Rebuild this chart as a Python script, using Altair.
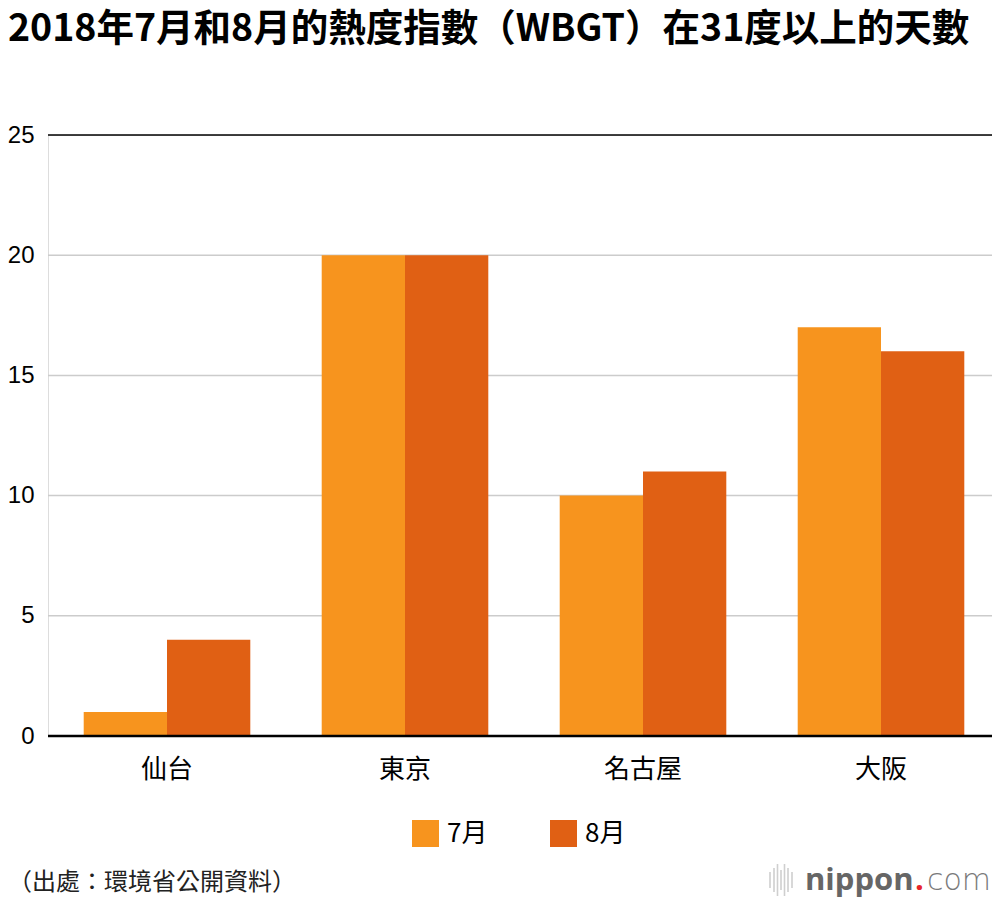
import altair as alt
import pandas as pd

cities = ["仙台", "東京", "名古屋", "大阪"]
months = ["7月", "8月"]
july = [1, 20, 10, 17]
august = [4, 20, 11, 16]
colors = ["#F7941E", "#E06014"]
y_ticks = [0, 5, 10, 15, 20, 25]
grid_values = [5, 10, 15, 20]
title_text = "2018年7月和8月的熱度指數（WBGT）在31度以上的天數"
source_text = "（出處：環境省公開資料）"

rows = []
for c, a, b in zip(cities, july, august):
    rows.append({"city": c, "month": months[0], "days": a})
    rows.append({"city": c, "month": months[1], "days": b})
df = pd.DataFrame(rows)

W, H = 944, 601
FULL_W = 952
CJK = "Noto Sans CJK TC"

x_enc = alt.X("city:N", sort=cities, title=None,
              scale=alt.Scale(range=[0, FULL_W], paddingInner=0.3, paddingOuter=0.15),
              axis=alt.Axis(labelAngle=0, labelFont=CJK, labelFontSize=26, labelColor="#000",
                            labelPadding=20, domain=False, ticks=False, labelBaseline="top"))
y_scale = alt.Scale(domain=[0, 25], nice=False)
y_axis = alt.Axis(values=y_ticks, labelFont="Liberation Sans", labelFontSize=24,
                  labelColor="#000", labelPadding=14, domain=False, ticks=False, grid=False)

bars = alt.Chart(df).mark_bar().encode(
    x=x_enc,
    xOffset=alt.XOffset("month:N", sort=months),
    y=alt.Y("days:Q", scale=y_scale, title=None, axis=y_axis),
    color=alt.Color("month:N", sort=months,
                    scale=alt.Scale(domain=months, range=colors),
                    legend=alt.Legend(title=None, orient="none", direction="horizontal",
                                      legendX=364, legendY=685, padding=0,
                                      symbolType="square", symbolSize=729, symbolStrokeWidth=0,
                                      symbolOpacity=1,
                                      labelFont=CJK, labelFontSize=26, labelColor="#000",
                                      labelOffset=8, columnPadding=62)),
)

grid = alt.Chart(pd.DataFrame({"days": grid_values})).mark_rule(
    color="#cccccc", strokeWidth=1.5).encode(
    y=alt.Y("days:Q", scale=y_scale, title=None, axis=y_axis),
    x=alt.value(0), x2=alt.value(FULL_W))
top_rule = alt.Chart(pd.DataFrame({"days": [25]})).mark_rule(color="#000", strokeWidth=1.5).encode(
    y=alt.Y("days:Q", scale=y_scale, title=None, axis=y_axis),
    x=alt.value(0), x2=alt.value(FULL_W))
zero_rule = alt.Chart(pd.DataFrame({"days": [0]})).mark_rule(color="#000", strokeWidth=2.5).encode(
    y=alt.Y("days:Q", scale=y_scale, title=None, axis=y_axis),
    x=alt.value(0), x2=alt.value(FULL_W))

title = alt.Chart(pd.DataFrame({"t": [title_text]})).mark_text(
    font=CJK, fontSize=37.5, fontWeight="bold", align="left", baseline="alphabetic", color="#000"
).encode(text="t:N", x=alt.value(-40), y=alt.value(-94))

src = alt.Chart(pd.DataFrame({"t": [source_text]})).mark_text(
    font=CJK, fontSize=24, align="left", baseline="alphabetic", color="#222"
).encode(text="t:N", x=alt.value(-40), y=alt.value(755))

LOGO_Y = 755
logo_n = alt.Chart(pd.DataFrame({"t": ["nippon"]})).mark_text(
    font="Open Sans", fontWeight="bold", fontSize=31, align="left",
    baseline="alphabetic", color="#666666"
).encode(text="t:N", x=alt.value(757), y=alt.value(LOGO_Y))
logo_dot = alt.Chart(pd.DataFrame({"t": ["."]})).mark_text(
    font="Open Sans", fontWeight="bold", fontSize=31, align="left", baseline="alphabetic", color="#e8262a"
).encode(text="t:N", x=alt.value(867), y=alt.value(LOGO_Y))
logo_com = alt.Chart(pd.DataFrame({"t": ["com"]})).mark_text(
    font="DejaVu Sans", fontWeight=200, fontSize=30, align="left", baseline="alphabetic", color="#7a7a7a"
).encode(text="t:N", x=alt.value(879), y=alt.value(LOGO_Y))

icon_layers = []
icon_bars = [(722, 8), (726, 12), (729.5, 16), (733, 10), (736.5, 16), (740, 12), (744, 8)]
for bx, bh in icon_bars:
    icon_layers.append(
        alt.Chart(pd.DataFrame({"k": [0]})).mark_rule(color="#cfcfcf", strokeWidth=1.6).encode(
            x=alt.value(bx), y=alt.value(LOGO_Y - 10 - bh), y2=alt.value(LOGO_Y - 10 + bh))
    )

chart = alt.layer(grid, bars, top_rule, zero_rule, title, src, logo_n, logo_dot, logo_com,
                  *icon_layers).properties(
    width=W, height=H,
    autosize=alt.AutoSizeParams(type="none"),
    padding={"left": 40, "top": 127, "right": 0, "bottom": 162},
).configure_view(strokeWidth=0, stroke="transparent").configure(background="white")

chart.save("out.html", embed_options={"renderer": "svg", "actions": False})
